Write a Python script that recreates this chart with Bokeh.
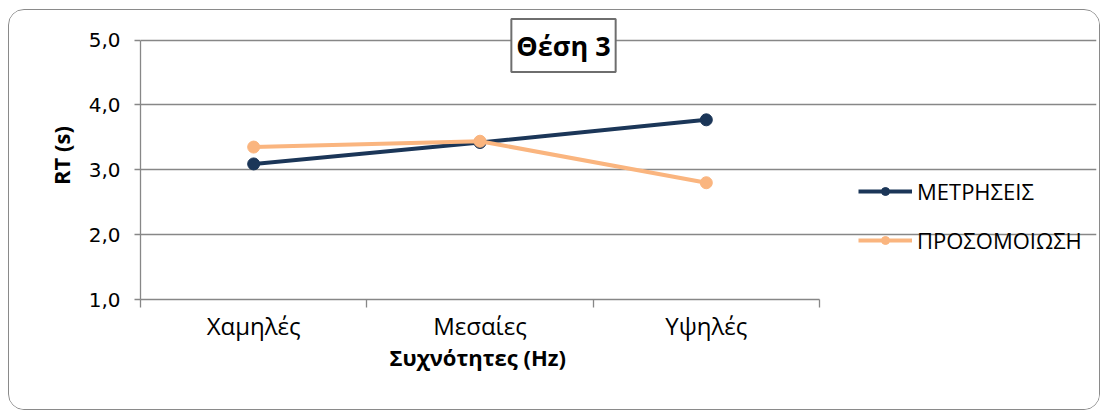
from bokeh.plotting import figure
from bokeh.models import Range1d, FixedTicker, Label, Legend, LegendItem, Title
from bokeh.embed import file_html
from bokeh.resources import INLINE

categories = ["Χαμηλές", "Μεσαίες", "Υψηλές"]
metriseis = [3.09, 3.42, 3.77]
prosomoiosi = [3.35, 3.44, 2.80]
y_ticks = [1, 2, 3, 4, 5]
y_tick_labels = ["1,0", "2,0", "3,0", "4,0", "5,0"]
series_names = ["ΜΕΤΡΗΣΕΙΣ", "ΠΡΟΣΟΜΟΙΩΣΗ"]
title_text = "Θέση 3"
x_title = "Συχνότητες (Hz)"
y_title = "RT (s)"

n = len(categories)
x_pos = [i + 0.5 for i in range(n)]

W, H = 1092, 401
p = figure(width=W, height=H, output_backend="svg", toolbar_location=None,
           x_range=Range1d(0, 4.224), y_range=Range1d(1, 5.44),
           min_border_left=131, min_border_right=5,
           min_border_top=1, min_border_bottom=112,
           background_fill_color="white", border_fill_color="white",
           styles={"margin-left": "8px", "margin-top": "9px",
                   "border": "1.5px solid #8a8a8a", "border-radius": "16px",
                   "overflow": "hidden"})
p.outline_line_color = None

grey = "#878787"
# y axis
p.yaxis.bounds = (y_ticks[0], y_ticks[-1])
p.yaxis.ticker = FixedTicker(ticks=y_ticks)
p.yaxis.major_label_overrides = {t: l for t, l in zip(y_ticks, y_tick_labels)}
p.yaxis.major_label_text_font = "DejaVu Sans"
p.yaxis.major_label_text_font_size = "20px"
p.yaxis.major_label_text_color = "black"
p.yaxis.major_label_standoff = 14
p.yaxis.axis_line_color = grey
p.yaxis.axis_line_width = 1.3
p.yaxis.major_tick_line_color = grey
p.yaxis.major_tick_line_width = 1.3
p.yaxis.major_tick_out = 6
p.yaxis.major_tick_in = 0
p.yaxis.minor_tick_line_color = None
p.yaxis.axis_label = y_title
p.yaxis.axis_label_text_font = "Open Sans"
p.yaxis.axis_label_text_font_style = "bold"
p.yaxis.axis_label_text_font_size = "22px"
p.yaxis.axis_label_text_color = "black"
p.yaxis.axis_label_standoff = 10

# x axis
p.xaxis.bounds = (0, n)
p.xaxis.ticker = FixedTicker(ticks=x_pos, minor_ticks=list(range(n + 1)))
p.xaxis.major_label_overrides = {x: c for x, c in zip(x_pos, categories)}
p.xaxis.major_label_text_font = "Open Sans"
p.xaxis.major_label_text_font_size = "24px"
p.xaxis.major_label_text_color = "black"
p.xaxis.major_tick_line_color = None
p.xaxis.major_tick_out = 0
p.xaxis.major_tick_in = 0
p.xaxis.major_label_standoff = 1
p.xaxis.minor_tick_line_color = grey
p.xaxis.minor_tick_line_width = 1.3
p.xaxis.minor_tick_out = 8
p.xaxis.minor_tick_in = 0
p.xaxis.axis_line_color = grey
p.xaxis.axis_line_width = 1.3

# x-axis title placed under the category axis (left-aligned with offset)
p.add_layout(Title(text=x_title, align="left", offset=249, standoff=-10,
                   text_font="Open Sans", text_font_style="bold",
                   text_font_size="22px", text_color="black"), "below")

p.xgrid.visible = False
p.ygrid.ticker = FixedTicker(ticks=y_ticks)
p.ygrid.bounds = (0, n)
p.ygrid.grid_line_color = grey
p.ygrid.grid_line_width = 1.3

colors = ["#1b3658", "#fab57f"]
items = []
for name, vals, col in zip(series_names, [metriseis, prosomoiosi], colors):
    r1 = p.line(x_pos, vals, line_color=col, line_width=4)
    r2 = p.scatter(x_pos, vals, size=12, fill_color=col, line_color=col)
    items.append(LegendItem(label=name, renderers=[r1, r2]))

legend = Legend(items=items, location=(857 - 139, 44),
                padding=0, margin=0, border_line_color=None,
                background_fill_alpha=0, glyph_width=54, glyph_height=20,
                label_height=20, spacing=19, label_standoff=5,
                label_text_font="Open Sans", label_text_font_size="22px",
                label_text_color="black")
p.add_layout(legend, "center")

title = Label(x=1.869, y=4.915, text=title_text, text_align="center",
              text_baseline="middle", text_font="Open Sans",
              text_font_style="bold", text_font_size="27px",
              text_color="black", border_line_color="#6e6e6e",
              border_line_width=2, background_fill_color="white",
              padding=(5, 8))
p.add_layout(title)

open("out.html", "w").write(file_html(p, INLINE))
